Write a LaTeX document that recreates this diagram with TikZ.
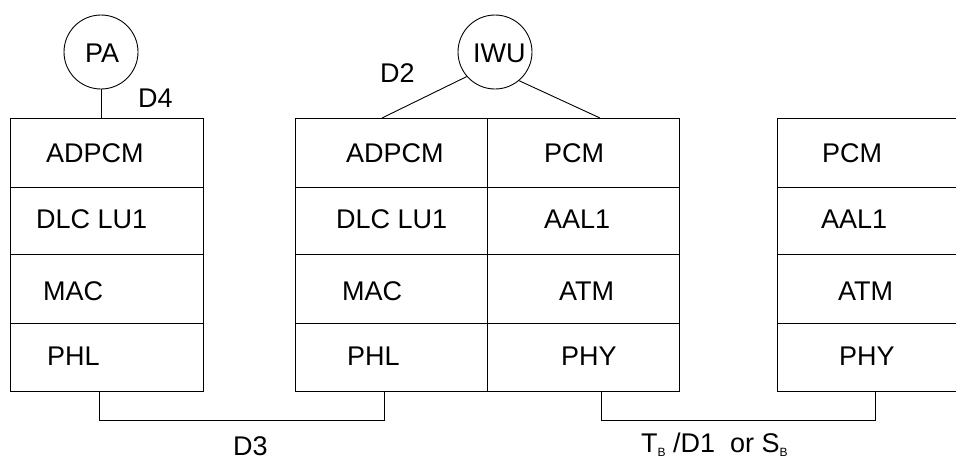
\documentclass[tikz,border=0pt]{standalone}
\usepackage{fontspec}
\setmainfont{Liberation Sans}
\newcommand{\subB}{\raisebox{-4pt}{\fontsize{12}{12}\selectfont B}}
\begin{document}
\begin{tikzpicture}[x=1pt,y=-1pt,
  line/.style={draw=black,line width=0.9pt},
  lbl/.style={anchor=base west,inner sep=0pt,font=\fontsize{27}{30}\selectfont},
  circ/.style={circle,draw=black,line width=0.9pt,minimum size=74pt,inner sep=0pt},
  stackbox/.style={draw=black,line width=0.9pt,rectangle,anchor=north west,inner sep=0pt,minimum height=273pt}]
\useasboundingbox (0,0) rectangle (956,459);
% stacks
\node[stackbox,minimum width=193pt] (L) at (10,118) {};
\node[stackbox,minimum width=384pt] (M) at (295,118) {};
\node[stackbox,minimum width=200pt] (R) at (777,118) {};
% row separators
\foreach \y in {187,254,323}{
  \draw[line] (10,\y) -- (203,\y);
  \draw[line] (295,\y) -- (679,\y);
  \draw[line] (777,\y) -- (977,\y);
}
\draw[line] (487,118) -- (487,391);
% circles
\node[circ] (PA) at (101,52) {};
\node[circ] (IWU) at (495,52) {};
\node[lbl] (paT) at (85,62) {PA};
\node[lbl] (iwuT) at (473,62) {IWU};
% connectors
\coordinate (Ltop) at (101,118);
\coordinate (M1) at (382,118);
\coordinate (M2) at (600,118);
\draw[line] (PA) -- (Ltop);
\draw[line] (IWU.221) -- (M1);
\draw[line] (IWU.310) -- (M2);
\coordinate (Lb) at (99,391);
\coordinate (Mb1) at (384,391);
\coordinate (Mb2) at (601,391);
\coordinate (Rb) at (875,391);
\draw[line] (Lb) -- ++(0,29) -| (Mb1);
\draw[line] (Mb2) -- ++(0,29) -| (Rb);
% interface labels
\node[lbl] (d4) at (138,107) {D4};
\node[lbl] (d2) at (380,82) {D2};
\node[lbl] (d3) at (233,455) {D3};
\node[lbl] (tb) at (641,452) {T\subB\ /D1\ \ or S\subB};
% left stack labels
\node[lbl] (l1) at (46,162) {ADPCM};
\node[lbl] (l2) at (36,228) {DLC LU1};
\node[lbl] (l3) at (43,300) {MAC};
\node[lbl] (l4) at (47,365) {PHL};
% middle stack labels
\node[lbl] (m1) at (346,162) {ADPCM};
\node[lbl] (m2) at (336,228) {DLC LU1};
\node[lbl] (m3) at (342,300) {MAC};
\node[lbl] (m4) at (347,365) {PHL};
\node[lbl] (m5) at (544,162) {PCM};
\node[lbl] (m6) at (544,228) {AAL1};
\node[lbl] (m7) at (559,300) {ATM};
\node[lbl] (m8) at (561,365) {PHY};
% right stack labels
\node[lbl] (r1) at (822,162) {PCM};
\node[lbl] (r2) at (821,228) {AAL1};
\node[lbl] (r3) at (838,300) {ATM};
\node[lbl] (r4) at (839,365) {PHY};
\end{tikzpicture}
\end{document}
